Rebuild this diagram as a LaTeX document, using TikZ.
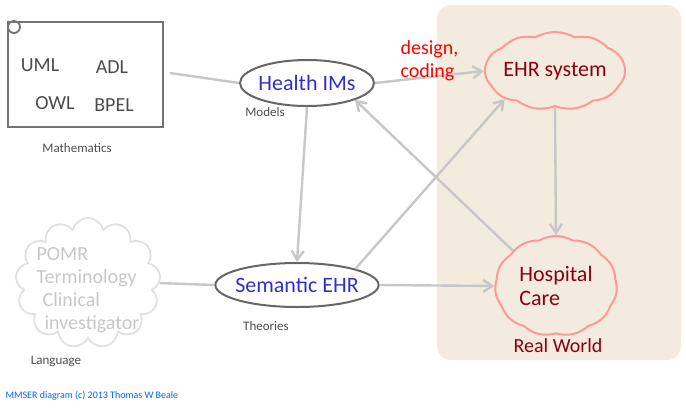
\documentclass[tikz,border=0pt]{standalone}
\usepackage{fontspec}
\setmainfont{Carlito}
\usetikzlibrary{shapes.geometric,shapes.symbols,arrows.meta}
\definecolor{beige}{RGB}{242,235,222}
\definecolor{imblue}{RGB}{48,48,200}
\definecolor{realred}{RGB}{140,0,20}
\newcommand{\bigsz}{\fontsize{22}{24}\selectfont}
\newcommand{\midsz}{\fontsize{20}{23}\selectfont}
\tikzset{
  conn/.style={draw=black!22, line width=2.4pt, -{Straight Barb[length=9pt,width=12pt]}},
  link/.style={draw=black!22, line width=2.4pt},
  blob/.style={ellipse, draw=black!60, line width=2pt, inner sep=-4pt},
  place/.style={cloud, cloud puffs=11, cloud puff arc=60, aspect=2, draw=red!40, line width=2pt, inner sep=-8pt},
  small/.style={font=\fontsize{13}{15}\selectfont, text=black!70}
}
\begin{document}
\begin{tikzpicture}[x=1pt,y=-1pt]
\useasboundingbox (0,0) rectangle (686,408);
% real world
\fill[beige, rounded corners=14pt] (437,5) rectangle (681,360);
\node[text=realred, font=\midsz] (rw) at (558,346) {Real World};

% mathematics
\draw[black!55, line width=1.8pt] (8,22) rectangle (163,127);
\draw[black!55, line width=1.8pt] (14,27) circle (6);
\node[black!70, font=\midsz] (uml) at (40,65) {UML};
\node[black!70, font=\midsz] (adl) at (112,67) {ADL};
\node[black!70, font=\midsz] (owl) at (55,103) {OWL};
\node[black!70, font=\midsz] (bpel) at (114,105) {BPEL};
\node[small] (math) at (77,148) {Mathematics};
\coordinate (mathr) at (170,73);

% language
\node[cloud, cloud puffs=13, draw=black!12, line width=1.8pt, inner sep=-10pt, minimum width=145pt, minimum height=130pt] (lang) at (88,283) {};
\node[black!22, font=\midsz, align=left] (langtxt) at (88,290) {POMR\\Terminology\\\hspace*{6pt}Clinical\\\hspace*{8pt}investigator};
\node[small] (langlab) at (56,361) {Language};

% models and theories
\node[blob, text=imblue, font=\bigsz, minimum width=134pt, minimum height=46pt] (him) at (307,83) {Health IMs};
\node[small] (models) at (265,112) {Models};
\node[blob, text=imblue, font=\bigsz, minimum width=132pt, minimum height=44pt] (sem) at (297,285) {Semantic EHR};
\node[small] (theo) at (266,326) {Theories};

% real world things
\node[place, text=realred, font=\bigsz, minimum width=140pt, minimum height=78pt] (ehr) at (555,71) {EHR system};
\node[place, text=realred, font=\bigsz, align=left, minimum width=122pt, minimum height=100pt] (hc) at (556,286) {Hospital\\Care};

% connectors
\draw[link] (mathr) -- (him.west);
\draw[link] (lang.east) -- (sem.west);
\draw[conn] (him.east) -- node[above, text=red, font=\midsz, align=left, pos=0.5, yshift=-8pt] {design,\\coding} (ehr.west);
\draw[conn] (him.south) -- (sem.north);
\draw[conn] (hc.north west) -- (him.south east);
\draw[conn] (sem.north east) -- (ehr.south west);
\draw[conn] (sem.east) -- (hc.west);
\draw[conn] (ehr.south) -- (hc.north);

\node[text=blue!60!cyan, font=\fontsize{10}{12}\selectfont, anchor=west] (copy) at (2,396) {MMSER diagram (c) 2013 Thomas W Beale};
\end{tikzpicture}
\end{document}
